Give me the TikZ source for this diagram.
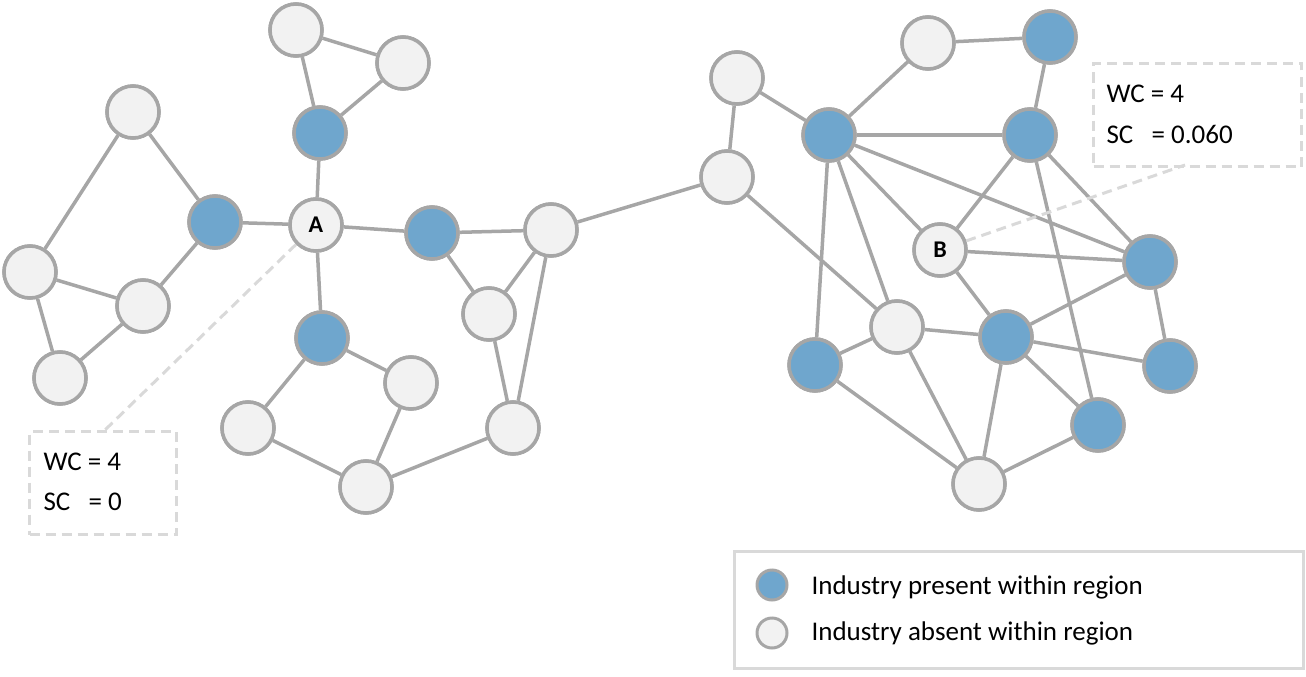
\documentclass[tikz,border=0pt]{standalone}
\usepackage{fontspec}
\setmainfont{Carlito}
\begin{document}
\begin{tikzpicture}[x=1pt,y=-1pt,
 nd/.style={circle,draw=edgec,line width=3.5pt,minimum size=52pt,inner sep=0pt,fill=grayf,font=\fontsize{24}{24}\selectfont\bfseries},
 bl/.style={nd,fill=bluef},
 ed/.style={draw=edgec,line width=3.5pt},
 lead/.style={draw=dashc,line width=3pt,dash pattern=on 10pt off 6pt},
 txt/.style={font=\fontsize{27}{27}\selectfont,anchor=west}]
\definecolor{edgec}{HTML}{A6A6A6}
\definecolor{grayf}{HTML}{F2F2F2}
\definecolor{bluef}{HTML}{6FA6CD}
\definecolor{dashc}{HTML}{D9D9D9}
\useasboundingbox (0,0) rectangle (1306,677);
% left cluster
\node[nd] (n1) at (133,112) {};
\node[bl] (n2) at (215,222) {};
\node[nd] (n3) at (30,272) {};
\node[nd] (n4) at (143,306) {};
\node[nd] (n5) at (60,378) {};
\node[nd] (A) at (316,225) {A};
\node[nd] (n6) at (296,30) {};
\node[nd] (n7) at (403,63) {};
\node[bl] (n8) at (320,133) {};
\node[bl] (n9) at (432,233) {};
\node[nd] (n10) at (551,230) {};
\node[nd] (n11) at (489,314) {};
\node[bl] (n12) at (322,338) {};
\node[nd] (n13) at (411,383) {};
\node[nd] (n14) at (248,428) {};
\node[nd] (n15) at (366,487) {};
\node[nd] (n16) at (513,428) {};
% right cluster
\node[nd] (r1) at (737,78) {};
\node[nd] (r2) at (727,177) {};
\node[nd] (r3) at (928,43) {};
\node[bl] (r4) at (1050,37) {};
\node[bl] (r5) at (829,135) {};
\node[bl] (r6) at (1030,135) {};
\node[nd] (B) at (940,250) {B};
\node[bl] (r7) at (1150,262) {};
\node[nd] (r8) at (897,327) {};
\node[bl] (r9) at (1006,337) {};
\node[bl] (r10) at (815,365) {};
\node[bl] (r11) at (1170,366) {};
\node[bl] (r12) at (1098,425) {};
\node[nd] (r13) at (979,484) {};
\begin{scope}[on background layer/.style={}]
\end{scope}
\begin{pgfonlayer}{main}\end{pgfonlayer}
% edges drawn behind: redraw nodes after
\foreach \a/\b in {n1/n2,n1/n3,n3/n4,n4/n2,n4/n5,n3/n5,n2/A,A/n8,n8/n7,n7/n6,n6/n8,A/n9,A/n12,n9/n10,n9/n11,n11/n10,n11/n16,n10/n16,n16/n15,n15/n13,n13/n12,n12/n14,n14/n15,
 n10/r2,r2/r1,r1/r5,r5/r3,r3/r4,r4/r6,r5/r6,r5/B,r5/r7,r5/r8,r5/r10,r6/B,r6/r7,r6/r12,B/r7,B/r9,r9/r7,r9/r8,r9/r11,r9/r12,r9/r13,r7/r11,r8/r10,r8/r13,r10/r13,r13/r12,r2/r8}
 \draw[ed] (\a) -- (\b);
% leaders and boxes
\node[draw=dashc,line width=3pt,dash pattern=on 10pt off 6pt,minimum width=147pt,minimum height=103pt,anchor=north west] (bl1) at (28,430) {};
\node[draw=dashc,line width=3pt,dash pattern=on 10pt off 6pt,minimum width=208pt,minimum height=103pt,anchor=north west] (bl2) at (1092,62) {};
\coordinate (la) at (105,430);
\coordinate (lb) at (1185,165);
\draw[lead] (A) -- (la);
\draw[lead] (B) -- (lb);
\node[txt] (t1) at (40,462) {WC = 4};
\node[txt] (t2) at (40,502) {SC\ \ \ = 0};
\node[txt] (t3) at (1103,94) {WC = 4};
\node[txt] (t4) at (1103,134) {SC\ \ \ = 0.060};
% legend
\node[draw=dashc,line width=3pt,minimum width=569pt,minimum height=117pt,anchor=north west] (leg) at (733,550) {};
\node[bl,minimum size=30pt,line width=3pt] (lg1) at (772,585) {};
\node[nd,minimum size=30pt,line width=3pt] (lg2) at (772,633) {};
\node[txt] (lt1) at (808,587) {Industry present within region};
\node[txt] (lt2) at (808,633) {Industry absent within region};
% redraw nodes on top
\foreach \n/\x/\y/\s/\l in {n1/133/112/nd/,n2/215/222/bl/,n3/30/272/nd/,n4/143/306/nd/,n5/60/378/nd/,A/316/225/nd/A,n6/296/30/nd/,n7/403/63/nd/,n8/320/133/bl/,n9/432/233/bl/,n10/551/230/nd/,n11/489/314/nd/,n12/322/338/bl/,n13/411/383/nd/,n14/248/428/nd/,n15/366/487/nd/,n16/513/428/nd/,r1/737/78/nd/,r2/727/177/nd/,r3/928/43/nd/,r4/1050/37/bl/,r5/829/135/bl/,r6/1030/135/bl/,B/940/250/nd/B,r7/1150/262/bl/,r8/897/327/nd/,r9/1006/337/bl/,r10/815/365/bl/,r11/1170/366/bl/,r12/1098/425/bl/,r13/979/484/nd/}
 \node[\s] (\n c) at (\x,\y) {\l};
\end{tikzpicture}
\end{document}
